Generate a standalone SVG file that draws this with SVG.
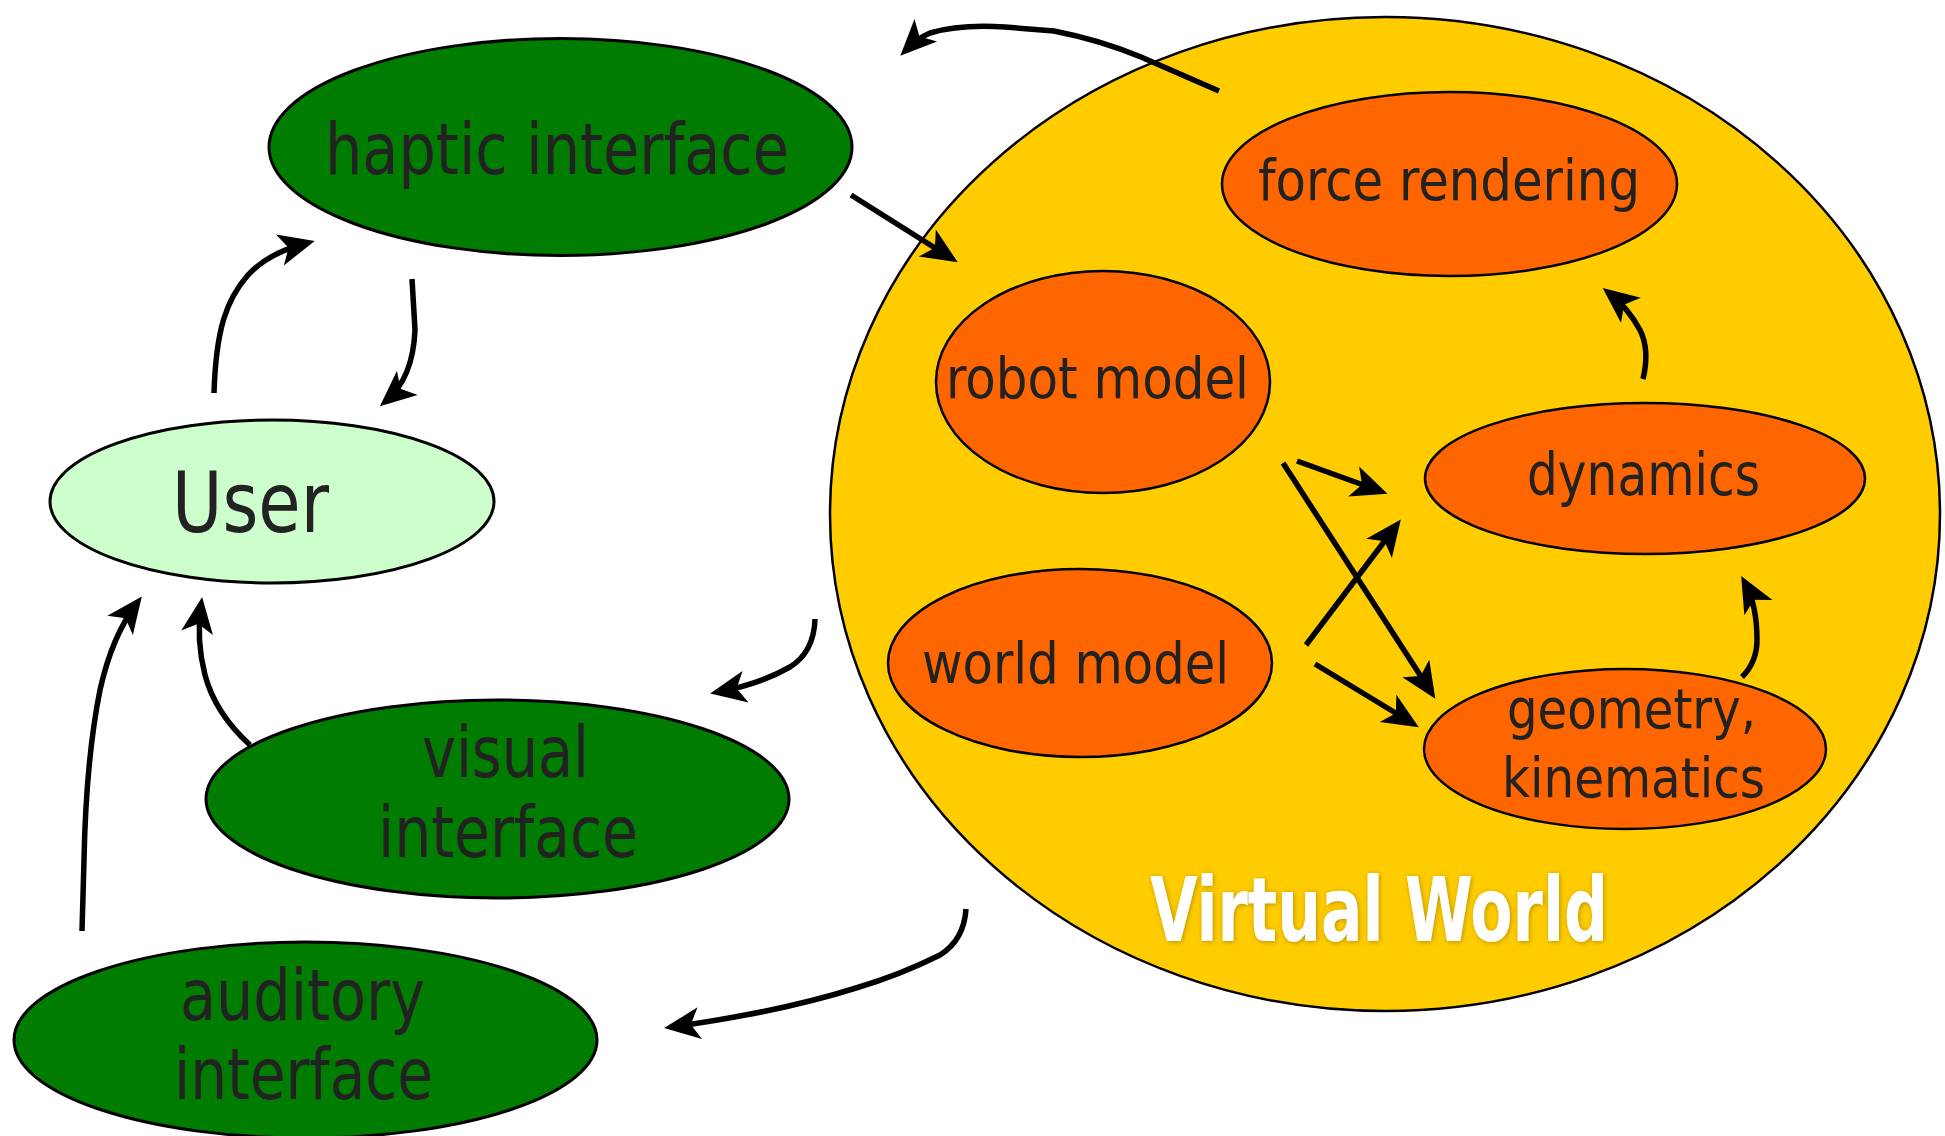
<svg xmlns="http://www.w3.org/2000/svg" width="1945" height="1136" viewBox="0 0 1945 1136">
<style>
.g{fill:#007c00;stroke:#000;stroke-width:3}
.o{fill:#ff6600;stroke:#000;stroke-width:2.5}
.t{font-family:"DejaVu Sans Condensed","DejaVu Sans","Liberation Sans",sans-serif;fill:#222}
.c{fill:none;stroke:#000;stroke-width:5.5;stroke-linejoin:round;marker-end:url(#ah)}
</style>
<defs>
<marker id="ah" markerUnits="userSpaceOnUse" markerWidth="60" markerHeight="60" viewBox="-40 -30 60 60" refX="0" refY="0" orient="auto" overflow="visible">
<path d="M8,0 L-28,-16 L-19,0 L-28,16 Z" fill="#000"/>
</marker>
<filter id="sh" x="-10%" y="-20%" width="120%" height="140%">
<feDropShadow dx="1" dy="1" stdDeviation="2.5" flood-color="#8a6a00" flood-opacity="0.6"/>
</filter>
</defs>
<g id="virtual-world">
<ellipse cx="1385" cy="514" rx="555" ry="497" fill="#ffcc00" stroke="#000" stroke-width="2.5"/>
<text class="t" x="1150" y="941" font-size="89" font-weight="bold" style="fill:#fff" textLength="458" lengthAdjust="spacingAndGlyphs" filter="url(#sh)">Virtual World</text>
</g>
<g id="haptic-interface">
<ellipse class="g" cx="560.5" cy="147" rx="291.5" ry="108.5"/>
<text class="t" x="325" y="174" font-size="71" textLength="464" lengthAdjust="spacingAndGlyphs">haptic interface</text>
</g>
<g id="user">
<ellipse cx="272" cy="501.5" rx="222" ry="81.5" fill="#ccffcc" stroke="#000" stroke-width="3"/>
<text class="t" x="172" y="532" font-size="83" textLength="157" lengthAdjust="spacingAndGlyphs">User</text>
</g>
<g id="visual-interface">
<ellipse class="g" cx="497.5" cy="799" rx="291.5" ry="99"/>
<text class="t" x="422" y="777" font-size="71" textLength="167" lengthAdjust="spacingAndGlyphs">visual</text>
<text class="t" x="378" y="857" font-size="71" textLength="260" lengthAdjust="spacingAndGlyphs">interface</text>
</g>
<g id="auditory-interface">
<ellipse class="g" cx="305.5" cy="1040" rx="291.5" ry="98"/>
<text class="t" x="180" y="1020" font-size="72" textLength="245" lengthAdjust="spacingAndGlyphs">auditory</text>
<text class="t" x="174" y="1099" font-size="72" textLength="259" lengthAdjust="spacingAndGlyphs">interface</text>
</g>
<g id="force-rendering">
<ellipse class="o" cx="1449.5" cy="184" rx="227.5" ry="92"/>
<text class="t" x="1258" y="200" font-size="57" textLength="382" lengthAdjust="spacingAndGlyphs">force rendering</text>
</g>
<g id="robot-model">
<ellipse class="o" cx="1103" cy="382" rx="167" ry="111"/>
<text class="t" x="946" y="398" font-size="57" textLength="303" lengthAdjust="spacingAndGlyphs">robot model</text>
</g>
<g id="dynamics">
<ellipse class="o" cx="1645" cy="478.5" rx="220" ry="75.5"/>
<text class="t" x="1527" y="494.5" font-size="58" textLength="233" lengthAdjust="spacingAndGlyphs">dynamics</text>
</g>
<g id="world-model">
<ellipse class="o" cx="1080" cy="663" rx="192" ry="94"/>
<text class="t" x="922" y="683" font-size="57" textLength="307" lengthAdjust="spacingAndGlyphs">world model</text>
</g>
<g id="geometry-kinematics">
<ellipse class="o" cx="1625" cy="749" rx="201" ry="80"/>
<text class="t" x="1507" y="728" font-size="55" textLength="249" lengthAdjust="spacingAndGlyphs">geometry,</text>
<text class="t" x="1502" y="797" font-size="55" textLength="263" lengthAdjust="spacingAndGlyphs">kinematics</text>
</g>
<g id="connectors">
<path class="c" d="M1219,91 L1141,57 Q1100,40 1054,31 L1005,27 Q960,24 930,33 Q918,38 906,50"/>
<path class="c" d="M851,195 L951,258"/>
<path class="c" d="M412,279 L415,330 Q413,378 386,401"/>
<path class="c" d="M214,393 C216,330 226,300 248,275 Q268,253 307,243"/>
<path class="c" d="M815,619 Q814,652 790,667 Q760,684 718,692"/>
<path class="c" d="M250,745 Q215,713 205,675 Q196,640 201,605"/>
<path class="c" d="M82,931 L84,860 Q86,760 100,690 Q112,636 137,603"/>
<path class="c" d="M966,909 Q964,940 940,955 Q900,975 856,988 Q780,1012 672,1027"/>
<path class="c" d="M1297,461 L1380,491"/>
<path class="c" d="M1283,463 L1431,692"/>
<path class="c" d="M1306,645 L1396,526"/>
<path class="c" d="M1315,664 L1412,723"/>
<path class="c" d="M1742,677 Q1757,662 1757,640 Q1757,605 1745,583"/>
<path class="c" d="M1643,379 Q1650,350 1640,330 Q1628,308 1609,293"/>
</g>
</svg>
